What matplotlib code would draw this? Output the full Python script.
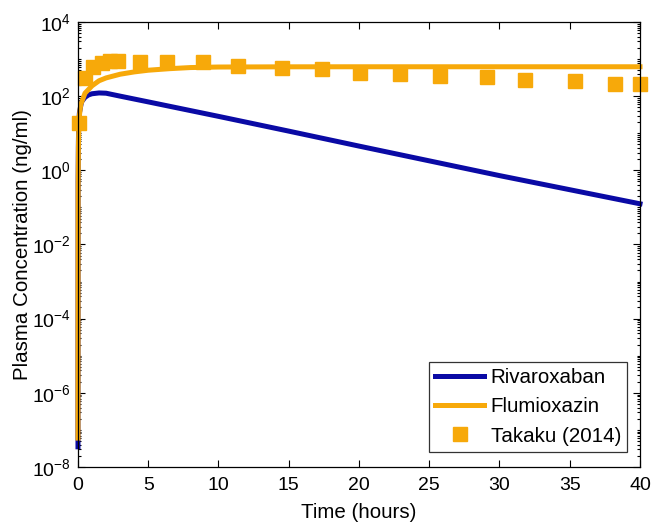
import numpy as np
import matplotlib
matplotlib.use("Agg")
import matplotlib.pyplot as plt
from matplotlib.ticker import LogLocator, NullFormatter

plt.rcParams["font.family"] = ["Liberation Sans", "DejaVu Sans"]
plt.rcParams["mathtext.fontset"] = "custom"
plt.rcParams["mathtext.rm"] = "Liberation Sans"
plt.rcParams["mathtext.it"] = "Liberation Sans"

# ---------------------------------------------------------------
# Data
# ---------------------------------------------------------------
riva_t = [0, 0.01, 0.03, 0.05, 0.1, 0.25, 0.5, 0.75, 1.0, 1.5, 2.0, 3.0, 5.0,
          10.0, 15.0, 20.0, 25.0, 30.0, 35.0, 40.0]
riva_c = [3.5e-8, 0.5, 6, 15, 35, 70, 93, 108, 116, 122, 120, 100, 70,
          28.5, 11.4, 4.5, 1.8, 0.72, 0.3, 0.125]

flum_t = [0, 0.01, 0.03, 0.05, 0.1, 0.2, 0.5, 1.0, 1.5, 2.0, 3.0, 4.0, 5.0,
          6.5, 8.0, 10.0, 15.0, 20.0, 30.0, 40.0]
flum_c = [6e-8, 0.3, 4, 10, 30, 60, 120, 190, 260, 310, 390, 450, 500,
          550, 590, 610, 618, 620, 620, 620]

obs_t = [0.09, 0.5, 1.09, 1.69, 2.28, 2.87, 4.41, 6.31, 8.9, 11.4, 14.5, 17.4,
         20.1, 22.9, 25.8, 29.1, 31.8, 35.4, 38.2, 40.0]
obs_c = [19, 310, 615, 790, 890, 890, 850, 850, 850, 650, 565, 525,
         410, 385, 345, 330, 280, 257, 218, 218]

blue = "#0a0aa5"
orange = "#f7a90a"

# ---------------------------------------------------------------
# Plot
# ---------------------------------------------------------------
fig = plt.figure(figsize=(6.52, 5.22), dpi=100)
ax = fig.add_axes([0.1196, 0.1054, 0.862, 0.8525])

ax.semilogy(riva_t, riva_c, color=blue, linewidth=3.6, label="Rivaroxaban",
            clip_on=False)
ax.semilogy(flum_t, flum_c, color=orange, linewidth=3.6, label="Flumioxazin",
            clip_on=False)
ax.semilogy(obs_t, obs_c, linestyle="none", marker="s", markersize=10.5,
            color=orange, label="Takaku (2014)", clip_on=False)

ax.set_xlim(0, 40)
ax.set_ylim(1e-8, 1e4)
ax.set_xticks([0, 5, 10, 15, 20, 25, 30, 35, 40])
ax.set_yticks([1e-8, 1e-6, 1e-4, 1e-2, 1e0, 1e2, 1e4])
ax.yaxis.set_minor_locator(LogLocator(base=10, subs=np.arange(1, 10), numticks=100))
ax.yaxis.set_minor_formatter(NullFormatter())

ax.tick_params(which="both", direction="in", top=True, right=True,
               labelsize=14, width=0.8)
ax.tick_params(which="major", length=5)
ax.tick_params(which="minor", length=2.5)
ax.tick_params(axis="x", pad=7)
ax.tick_params(axis="y", pad=5)
for s in ax.spines.values():
    s.set_linewidth(0.9)

ax.set_xlabel("Time (hours)", fontsize=14.8, labelpad=7)
ax.set_ylabel("Plasma Concentration (ng/ml)", fontsize=14.8, labelpad=0)

leg = ax.legend(loc="lower right", bbox_to_anchor=(0.977, 0.034), fontsize=14.8,
                frameon=True, fancybox=False, edgecolor="black",
                handlelength=2.4, handletextpad=0.3, borderpad=0.3,
                labelspacing=0.5, borderaxespad=0)
leg.get_frame().set_linewidth(0.9)

fig.savefig("out.png", dpi=100)
